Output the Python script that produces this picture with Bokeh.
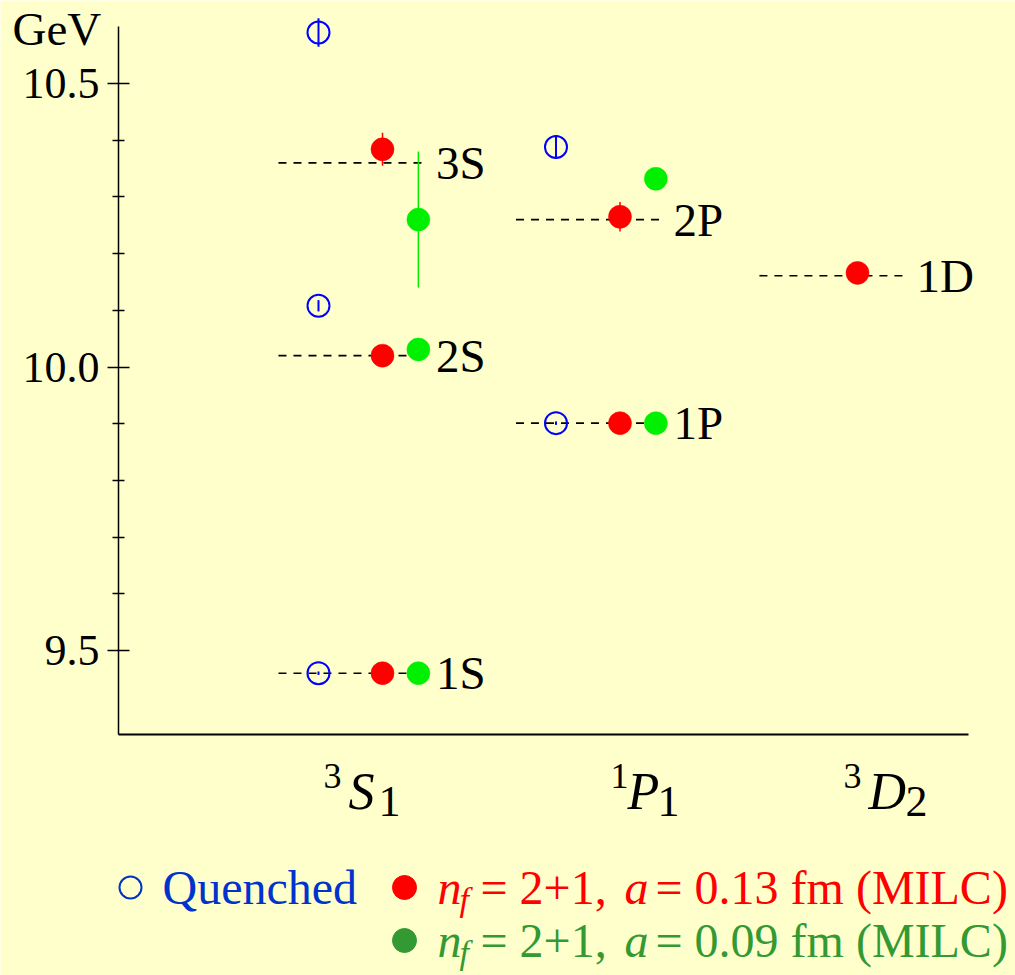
from bokeh.plotting import figure
from bokeh.models import (Range1d, FixedTicker, ColumnDataSource, LabelSet, Label,
                          PrintfTickFormatter, LinearAxis)
from bokeh.embed import file_html
from bokeh.resources import INLINE
from bokeh.core.properties import value

BG = "#FFFFCC"
SERIF = "Liberation Serif"

# ---------------- data ----------------
# experimental levels (dashed lines)
levels = ["1S", "2S", "3S", "1P", "2P", "1D"]
level_col = [1, 1, 1, 2, 2, 3]
level_mass = [9.460, 10.020, 10.360, 9.901, 10.260, 10.161]

# channels (x categories)
channel_col = [1, 2, 3]
channel_sup = ["3", "1", "3"]
channel_main = ["S", "P", "D"]
channel_sub = ["1", "1", "2"]

# quenched (blue open)
q_col = [1, 1, 1, 2, 2]
q_mass = [9.460, 10.108, 10.590, 9.901, 10.388]
q_err = [0.003, 0.010, 0.025, 0.003, 0.021]

# nf=2+1, a=0.13 fm (red)
c_col = [1, 1, 1, 2, 2, 3]
c_mass = [9.460, 10.020, 10.384, 9.901, 10.265, 10.166]
c_err = [0.004, 0.010, 0.029, 0.004, 0.026, 0.008]

# nf=2+1, a=0.09 fm (green)
f_col = [1, 1, 1, 2, 2]
f_mass = [9.460, 10.031, 10.260, 9.901, 10.332]
f_err = [0.004, 0.012, 0.120, 0.004, 0.010]

y_ticks = [9.5, 10.0, 10.5]
y_minor = [9.6, 9.7, 9.8, 9.9, 10.1, 10.2, 10.3, 10.4]

legend_spacings = ["0.13", "0.09"]

# ---------------- layout helpers ----------------
W, H = 1015, 975
OFF_Q, OFF_C, OFF_F = -0.2695, 0.0, 0.151
LINE_L = {1: -0.438, 2: -0.438, 3: -0.413}
LINE_R = {1: 0.187, 2: 0.187, 3: 0.211}
X0_PX, PX_PER_X = 144.5, 237.5      # canvas-pixel mapping used only for placing annotations
Y_REF_PX, Y_REF_VAL, PX_PER_Y = 83.0, 10.5, 567.0
AX_L, AX_R, AX_T, AX_B = 118, 968, 26, 734


def xpx(px):
    return (px - X0_PX) / PX_PER_X


def ypx(py):
    return Y_REF_VAL - (py - Y_REF_PX) / PX_PER_Y


p = figure(width=W, height=H,
           x_range=Range1d(xpx(0), xpx(W)),
           y_range=Range1d(ypx(H), ypx(0)),
           output_backend="svg", toolbar_location=None,
           x_axis_type=None, y_axis_type=None, min_border=0,
           background_fill_color=BG, border_fill_color=BG,
           outline_line_color=None)
p.grid.visible = False

# y axis (left), fixed at the plot's left edge, limited to the plot box
ya = LinearAxis(fixed_location=xpx(AX_L), bounds=(ypx(AX_B), ypx(AX_T)))
ya.ticker = FixedTicker(ticks=y_ticks, minor_ticks=y_minor)
ya.formatter = PrintfTickFormatter(format="%.1f")
ya.axis_line_width = 1.5
ya.axis_line_color = "black"
ya.major_tick_in = 11
ya.major_tick_out = 11
ya.minor_tick_in = 6
ya.minor_tick_out = 6
ya.major_tick_line_width = 1.5
ya.minor_tick_line_width = 1.5
ya.major_tick_line_color = "black"
ya.minor_tick_line_color = "black"
ya.major_label_text_font = SERIF
ya.major_label_text_font_size = "44px"
ya.major_label_text_color = "black"
ya.major_label_standoff = 8
p.add_layout(ya, "left")

# x axis (bottom): line only
xa = LinearAxis(fixed_location=ypx(AX_B), bounds=(xpx(AX_L), xpx(AX_R)))
xa.ticker = FixedTicker(ticks=[])
xa.axis_line_width = 2
xa.axis_line_color = "black"
xa.major_tick_line_color = None
xa.minor_tick_line_color = None
xa.major_label_text_font_size = "0px"
p.add_layout(xa, "below")

# dashed experimental levels
lvl_src = ColumnDataSource(dict(
    x0=[c + LINE_L[c] for c in level_col],
    x1=[c + LINE_R[c] for c in level_col],
    y=level_mass, text=levels))
p.segment(x0="x0", y0="y", x1="x1", y1="y", source=lvl_src,
          line_color="black", line_width=1.6, line_dash="8 7")
p.add_layout(LabelSet(x="x1", y="y", text="text", source=lvl_src,
                      x_offset=9, text_font=value(SERIF),
                      text_font_size="47px", text_color="black",
                      text_baseline="middle", text_align="left"))


def series(cols, masses, errs, off):
    xs = [c + off for c in cols]
    return ColumnDataSource(dict(x=xs, y=masses,
                                 lo=[m - e for m, e in zip(masses, errs)],
                                 hi=[m + e for m, e in zip(masses, errs)]))


qs = series(q_col, q_mass, q_err, OFF_Q)
cs = series(c_col, c_mass, c_err, OFF_C)
fs = series(f_col, f_mass, f_err, OFF_F)

p.segment(x0="x", y0="lo", x1="x", y1="hi", source=qs, line_color="#0000FF", line_width=2)
p.segment(x0="x", y0="lo", x1="x", y1="hi", source=cs, line_color="#FF0000", line_width=1.5)
p.segment(x0="x", y0="lo", x1="x", y1="hi", source=fs, line_color="#00EE00", line_width=1.5)

p.scatter(x="x", y="y", source=qs, size=22, fill_color=None, line_color="#0000FF", line_width=2)
p.scatter(x="x", y="y", source=cs, size=23, fill_color="#FF0000", line_color="#FF0000", line_width=0.5)
p.scatter(x="x", y="y", source=fs, size=23, fill_color="#00F000", line_color="#00F000", line_width=0.5)


def label(px_x, px_y, text, size, color="black", style="normal", dx=0):
    # px_y is the vertical centre of the text
    p.add_layout(Label(x=xpx(px_x), y=ypx(px_y), x_offset=dx, text=text,
                       text_font=SERIF, text_font_style=style,
                       text_font_size=size, text_color=color,
                       text_baseline="middle", text_align="left"))


# GeV unit label
label(12, 28, "GeV", "47px")

# channel labels  ^{2S+1}L_J
cat_left_px = [323, 610, 843]
main_dx = [25, 17, 25]
sub_dx = [55, 47, 62]
for i, c in enumerate(channel_col):
    label(cat_left_px[i], 775, channel_sup[i], "36px")
    label(cat_left_px[i], 791, channel_main[i], "52px", style="italic", dx=main_dx[i])
    label(cat_left_px[i], 801, channel_sub[i], "44px", dx=sub_dx[i])

# ---------------- legend ----------------
row_y = [887, 940]
p.scatter(x=[xpx(130)], y=[ypx(row_y[0])], size=22, fill_color=None,
          line_color="#0033CC", line_width=2)
label(162, row_y[0], "Quenched", "48px", color="#0033CC")

row_colors = ["#FF0000", "#339933"]
for r, (a_val, col) in enumerate(zip(legend_spacings, row_colors)):
    yc = row_y[r]
    p.scatter(x=[xpx(404)], y=[ypx(yc)], size=24, fill_color=col, line_color=col)
    label(437, yc, "n", "48px", color=col, style="italic")
    label(459, yc + 12, "f", "34px", color=col, style="italic")
    label(480, yc, "= 2+1,", "48px", color=col)
    label(624, yc, "a", "48px", color=col, style="italic")
    label(655, yc, "= " + a_val + " fm (MILC)", "48px", color=col)

open("out.html", "w").write(file_html(p, INLINE))
